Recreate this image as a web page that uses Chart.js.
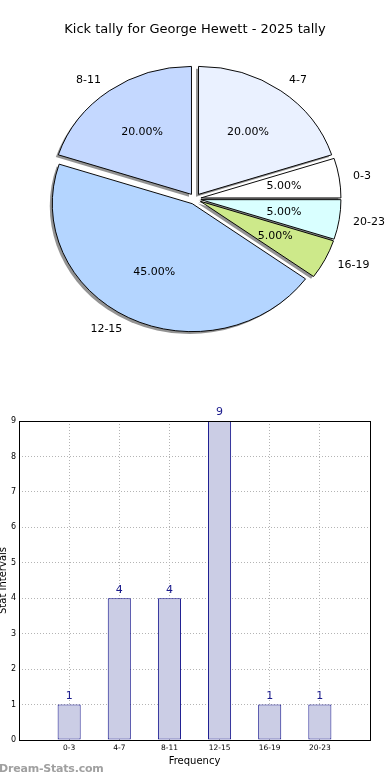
<!DOCTYPE html>
<html>
<head>
<meta charset="utf-8">
<script src="https://cdn.jsdelivr.net/npm/chart.js@4.4.0/dist/chart.umd.min.js"></script>
<style>
    html, body { margin: 0; padding: 0; background: #fff; }
    body { width: 390px; height: 780px; position: relative; overflow: hidden; }
    #pieBox { position: absolute; left: 0; top: 0; width: 390px; height: 370px; }
    #barBox { position: absolute; left: 0; top: 370px; width: 390px; height: 410px; }
    #brand { position: absolute; left: -1px; top: 762px; font: bold 11px "DejaVu Sans", sans-serif; color: #a0a0a0; letter-spacing: -0.2px; }
</style>
</head>
<body>
<div id="pieBox"><canvas id="pieChart"></canvas></div>
<div id="barBox"><canvas id="barChart"></canvas></div>
<div id="brand">Dream-Stats.com</div>
<script>
const categories = ['0-3', '4-7', '8-11', '12-15', '16-19', '20-23'];
const tallies = [1, 4, 4, 9, 1, 1];
const sliceColors = ['#ffffff', '#eaf1ff', '#c4d8ff', '#b4d5ff', '#cde98a', '#d9ffff'];

const FONT = '"DejaVu Sans", sans-serif';
const EXPLODE = 6;        // px each slice is pushed out
const SQUASH = 0.914;     // pie is drawn as an ellipse, like the original
const SHADOW_DX = -2.5;
const SHADOW_DY = 2.5;

document.addEventListener("DOMContentLoaded", function () {
    drawPieChart();
    drawBarChart();
});

function drawPieChart() {
    const ctx = document.getElementById('pieChart').getContext('2d');

    // original runs counter-clockwise from 3 o'clock, Chart.js runs clockwise -> reverse
    const labels = categories.slice().reverse();
    const values = tallies.slice().reverse();
    const colors = sliceColors.slice().reverse();
    const total = tallies.reduce((a, b) => a + b, 0);

    const pieStyle = {
        id: 'pieStyle',
        afterUpdate(chart) {
            // push every slice out along its middle angle
            chart.getDatasetMeta(0).data.forEach(arc => {
                if (arc._exploded) return;
                const draw = arc.draw;
                arc.draw = function (c) {
                    const mid = (this.startAngle + this.endAngle) / 2;
                    c.save();
                    c.translate(Math.cos(mid) * EXPLODE, Math.sin(mid) * EXPLODE);
                    draw.call(this, c);
                    c.restore();
                };
                arc._exploded = true;
            });
        },
        beforeDatasetsDraw(chart) {
            const c = chart.ctx;
            const arcs = chart.getDatasetMeta(0).data;
            const cx = arcs[0].x, cy = arcs[0].y;
            c.save();
            c.translate(cx, cy);
            c.scale(1, SQUASH);
            c.translate(-cx, -cy);
            // shadows under all slices
            arcs.forEach(arc => {
                const mid = (arc.startAngle + arc.endAngle) / 2;
                const ox = arc.x + Math.cos(mid) * EXPLODE + SHADOW_DX;
                const oy = arc.y + Math.sin(mid) * EXPLODE + SHADOW_DY;
                c.beginPath();
                c.moveTo(ox, oy);
                c.arc(ox, oy, arc.outerRadius, arc.startAngle, arc.endAngle);
                c.closePath();
                c.fillStyle = 'rgba(40, 40, 40, 0.5)';
                c.fill();
            });
        },
        afterDatasetsDraw(chart) {
            const c = chart.ctx;
            c.restore();
            c.save();
            c.font = '11px ' + FONT;
            c.fillStyle = '#000';
            c.textBaseline = 'middle';
            chart.getDatasetMeta(0).data.forEach((arc, i) => {
                const mid = (arc.startAngle + arc.endAngle) / 2;
                const cos = Math.cos(mid), sin = Math.sin(mid);
                const R = arc.outerRadius;

                const dl = EXPLODE + 1.1 * R;
                c.textAlign = cos < 0 ? 'right' : 'left';
                c.fillText(labels[i], arc.x + cos * dl, arc.y + SQUASH * sin * dl);

                const dp = EXPLODE + 0.6 * R;
                c.textAlign = 'center';
                const pct = (values[i] / total * 100).toFixed(2) + '%';
                c.fillText(pct, arc.x + cos * dp, arc.y + SQUASH * sin * dp);
            });
            c.restore();
        }
    };

    new Chart(ctx, {
        type: 'pie',
        data: {
            labels: labels,
            datasets: [{
                data: values,
                backgroundColor: colors,
                borderColor: '#000',
                borderWidth: 1
            }]
        },
        options: {
            animation: false,
            responsive: true,
            maintainAspectRatio: false,
            rotation: 90,
            radius: 140,
            layout: { padding: { top: 0, right: 0, bottom: 12, left: 0 } },
            plugins: {
                legend: { display: false },
                tooltip: { enabled: false },
                title: {
                    display: true,
                    text: 'Kick tally for George Hewett - 2025 tally',
                    color: '#000',
                    font: { size: 13, weight: 'normal', family: FONT },
                    padding: { top: 22, bottom: 2 }
                }
            }
        },
        plugins: [pieStyle]
    });
}

function drawBarChart() {
    const ctx = document.getElementById('barChart').getContext('2d');

    const points = tallies.map((v, i) => ({ x: i, y: v }));

    const gridLook = { color: '#b4b4b4', lineWidth: 1, drawTicks: false, offset: false };
    const borderLook = { display: false, dash: [1, 2] };

    const barExtras = {
        id: 'barExtras',
        afterDatasetsDraw(chart) {
            const c = chart.ctx;
            c.save();
            c.font = '11px ' + FONT;
            c.fillStyle = '#1a1a8c';
            c.textAlign = 'center';
            c.textBaseline = 'bottom';
            chart.getDatasetMeta(0).data.forEach((bar, i) => {
                c.fillText(String(tallies[i]), bar.x, bar.y - 3);
            });
            c.restore();
        },
        afterDraw(chart) {
            const a = chart.chartArea;
            const c = chart.ctx;
            c.save();
            c.strokeStyle = '#000';
            c.lineWidth = 1;
            c.strokeRect(a.left + 0.5, a.top + 0.5, a.right - a.left, a.bottom - a.top);
            c.restore();
        }
    };

    new Chart(ctx, {
        type: 'bar',
        data: {
            datasets: [{
                data: points,
                backgroundColor: '#cbcde5',
                borderColor: '#10108a',
                borderWidth: 1,
                borderSkipped: false,
                barPercentage: 0.46,
                categoryPercentage: 1
            }]
        },
        options: {
            animation: false,
            responsive: true,
            maintainAspectRatio: false,
            layout: { padding: { top: 51, right: 20, bottom: 0, left: 0 } },
            plugins: {
                legend: { display: false },
                tooltip: { enabled: false }
            },
            scales: {
                x: {
                    type: 'linear',
                    min: -1,
                    max: 6,
                    offset: false,
                    z: 1,
                    grid: gridLook,
                    border: borderLook,
                    ticks: {
                        stepSize: 1,
                        autoSkip: false,
                        maxRotation: 0,
                        padding: 4,
                        color: '#000',
                        font: { size: 7.5, family: FONT },
                        callback: v => categories[v] ?? ''
                    },
                    title: {
                        display: true,
                        text: 'Frequency',
                        color: '#000',
                        font: { size: 10, family: FONT },
                        padding: { top: 0, bottom: 13 }
                    },
                    afterFit: s => { s.height = 40; }
                },
                y: {
                    min: 0,
                    max: 9,
                    z: 1,
                    grid: gridLook,
                    border: borderLook,
                    ticks: {
                        stepSize: 1,
                        padding: 3,
                        color: '#000',
                        font: { size: 8, family: FONT }
                    },
                    title: {
                        display: true,
                        text: 'Stat Intervals',
                        color: '#000',
                        font: { size: 10, family: FONT },
                        padding: { top: -3, bottom: 0 }
                    },
                    afterFit: s => { s.width = 19; }
                }
            }
        },
        plugins: [barExtras]
    });
}
</script>
</body>
</html>
